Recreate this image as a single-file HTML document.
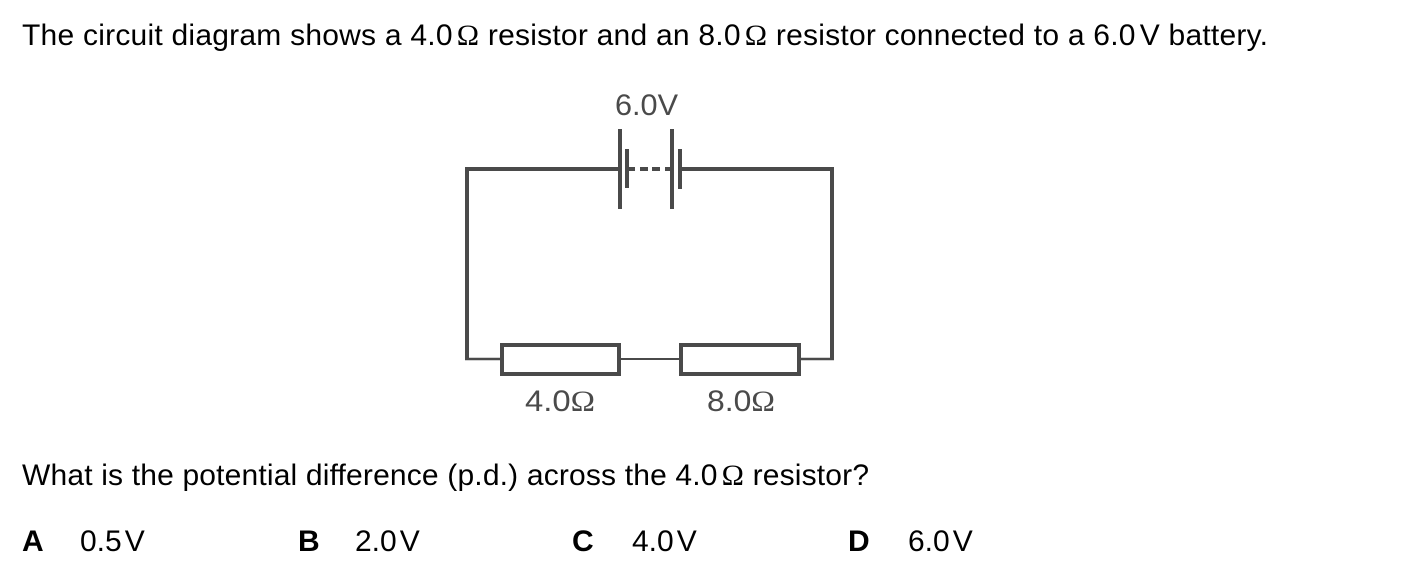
<!DOCTYPE html>
<html>
<head>
<meta charset="utf-8">
<style>
  html, body { margin: 0; padding: 0; background: #fff; }
  body { width: 1418px; height: 579px; overflow: hidden; }
  svg { display: block; }
  .t { font-family: "Liberation Sans", Arial, sans-serif; font-size: 30px; fill: #000; }
  .b { font-weight: bold; }
  .lbl { font-family: "Liberation Sans", Arial, sans-serif; font-size: 30px; fill: #4a4a4a; }
  .om { font-family: "Liberation Serif", serif; }
</style>
</head>
<body>
<svg width="1418" height="579" viewBox="0 0 1418 579" xmlns="http://www.w3.org/2000/svg">
  <!-- Heading text -->
  <text class="t" x="22" y="45" textLength="1246" lengthAdjust="spacing">The circuit diagram shows a 4.0<tspan class="om" dx="4">Ω</tspan> resistor and an 8.0<tspan class="om" dx="4">Ω</tspan> resistor connected to a 6.0<tspan dx="4">V</tspan> battery.</text>

  <!-- Circuit -->
  <g stroke="#4a4a4a" fill="none" stroke-linecap="butt">
    <line x1="465" y1="169" x2="620" y2="169" stroke-width="4"/>
    <line x1="680" y1="169" x2="834" y2="169" stroke-width="4"/>
    <line x1="627" y1="169" x2="635" y2="169" stroke-width="4"/>
    <line x1="665" y1="169" x2="672" y2="169" stroke-width="4"/>
    <line x1="640" y1="169" x2="648" y2="169" stroke-width="4"/>
    <line x1="652" y1="169" x2="660" y2="169" stroke-width="4"/>
    <line x1="620" y1="129" x2="620" y2="209" stroke-width="4"/>
    <line x1="627" y1="149" x2="627" y2="188" stroke-width="4"/>
    <line x1="672" y1="129" x2="672" y2="209" stroke-width="4"/>
    <line x1="680" y1="149" x2="680" y2="189" stroke-width="4"/>
    <line x1="467" y1="167" x2="467" y2="360" stroke-width="4"/>
    <line x1="832" y1="167" x2="832" y2="360" stroke-width="4"/>
    <line x1="465" y1="359" x2="502" y2="359" stroke-width="2.5"/>
    <line x1="621" y1="359" x2="681" y2="359" stroke-width="2"/>
    <line x1="799" y1="359" x2="834" y2="359" stroke-width="2.5"/>
    <rect x="502" y="345" width="117" height="29" stroke-width="4" fill="#fff"/>
    <rect x="681" y="345" width="118" height="29" stroke-width="4" fill="#fff"/>
  </g>

  <!-- Diagram labels -->
  <text class="lbl" x="615" y="115" textLength="63" lengthAdjust="spacingAndGlyphs">6.0V</text>
  <text class="lbl" x="525" y="411" textLength="70" lengthAdjust="spacingAndGlyphs">4.0<tspan class="om">Ω</tspan></text>
  <text class="lbl" x="707" y="411" textLength="68" lengthAdjust="spacingAndGlyphs">8.0<tspan class="om">Ω</tspan></text>

  <!-- Question -->
  <text class="t" x="22" y="485" textLength="847" lengthAdjust="spacing">What is the potential difference (p.d.) across the 4.0<tspan class="om" dx="4">Ω</tspan> resistor?</text>

  <!-- Options -->
  <text class="t b" x="22" y="551">A</text>
  <text class="t" x="80" y="551">0.5<tspan dx="3">V</tspan></text>
  <text class="t b" x="298" y="551">B</text>
  <text class="t" x="355" y="551">2.0<tspan dx="3">V</tspan></text>
  <text class="t b" x="572" y="551">C</text>
  <text class="t" x="632" y="551">4.0<tspan dx="3">V</tspan></text>
  <text class="t b" x="848" y="551">D</text>
  <text class="t" x="908" y="551">6.0<tspan dx="3">V</tspan></text>
</svg>
</body>
</html>
